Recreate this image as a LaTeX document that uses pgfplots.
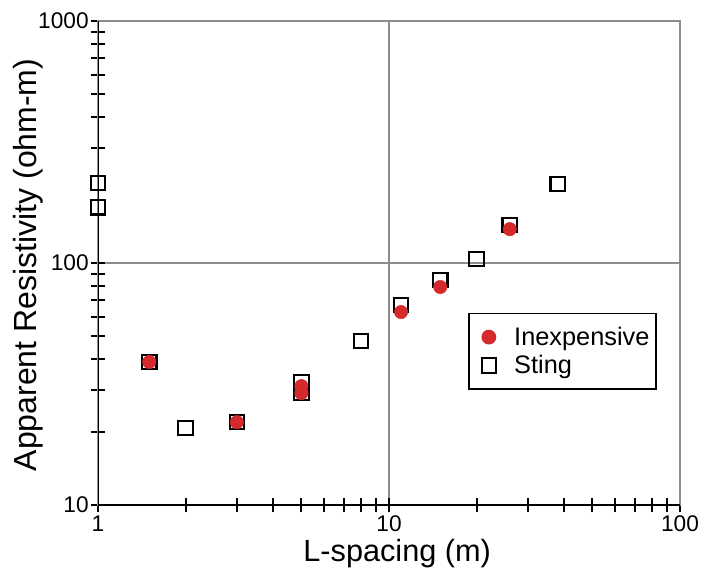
\documentclass[border=0pt]{standalone}
\usepackage{fontspec}
\setmainfont{Liberation Sans}
\usepackage{pgfplots}
\pgfplotsset{compat=1.18}
\definecolor{DotRed}{HTML}{D42A2B}
\definecolor{GridGray}{HTML}{8C8C8C}

\begin{document}
\begin{tikzpicture}
\begin{loglogaxis}[
    at={(0,0)}, anchor=south west,
    scale only axis,
    width=436.5pt, height=363pt,
    xmin=1, xmax=100, ymin=10, ymax=1000,
    xtick={1,10,100}, xticklabels={1,10,100},
    ytick={10,100,1000}, yticklabels={10,100,1000},
    /pgf/number format/assume math mode=true,
    xtick pos=left, ytick pos=left,
    tick align=center,
    major tick length=11pt, minor tick length=11pt,
    tick style={black, line width=1.5pt},
    axis line style={GridGray, line width=1pt},
    grid=major,
    major grid style={GridGray, line width=0.9pt},
    tick label style={font=\fontsize{17}{20}\selectfont},
    xticklabel style={yshift=1pt},
    yticklabel style={xshift=2pt},
    xlabel={L-spacing (m)},
    ylabel={Apparent Resistivity (ohm-m)},
    xlabel style={at={(axis description cs:0.514,-0.101)}, anchor=center,
        font=\fontsize{23}{27}\selectfont},
    ylabel style={at={(axis description cs:-0.120,0.496)}, anchor=center,
        font=\fontsize{24}{28}\selectfont},
    legend style={at={(rel axis cs:0.636,0.397)}, anchor=north west,
        draw=black, line width=1.1pt, fill=white,
        font=\fontsize{19}{22}\selectfont,
        inner xsep=3pt, inner ysep=8pt, row sep=2pt},
    legend cell align=left,
    legend image code/.code={%
        \path[draw=none] (0pt,0pt) -- (29pt,0pt);
        \draw[#1] plot coordinates {(12pt,0pt)};},
]
\addplot[only marks, mark=square, mark size=5.4pt, mark options={draw=black, line width=1.6pt, fill=none}, forget plot] coordinates {
    (1,214) (1,170) (1.5,39) (2,20.8) (3,22) (5,32.2) (5,29)
    (8,47.6) (11,67) (15,85) (20,104) (26,143.6) (38,212)
};
\addplot[only marks, mark=*, mark size=5pt, mark options={draw=DotRed, fill=DotRed}] coordinates {
    (1.5,39) (3,22) (5,29) (5,31) (11,62.7) (15,79.6) (26,138)
};
\addlegendentry{Inexpensive}
\addplot[only marks, mark=square, mark size=5.4pt, mark options={draw=black, line width=1.6pt, fill=none}] coordinates {
    (1000,1000)
};
\addlegendentry{Sting}
\draw[black, line width=2pt] (rel axis cs:0,1) -- (rel axis cs:0,0) -- (rel axis cs:1,0);
\end{loglogaxis}
\pgfresetboundingbox
\path[use as bounding box] (-73.5pt,-50.25pt) rectangle (458.25pt,378.75pt);
\end{tikzpicture}
\end{document}
